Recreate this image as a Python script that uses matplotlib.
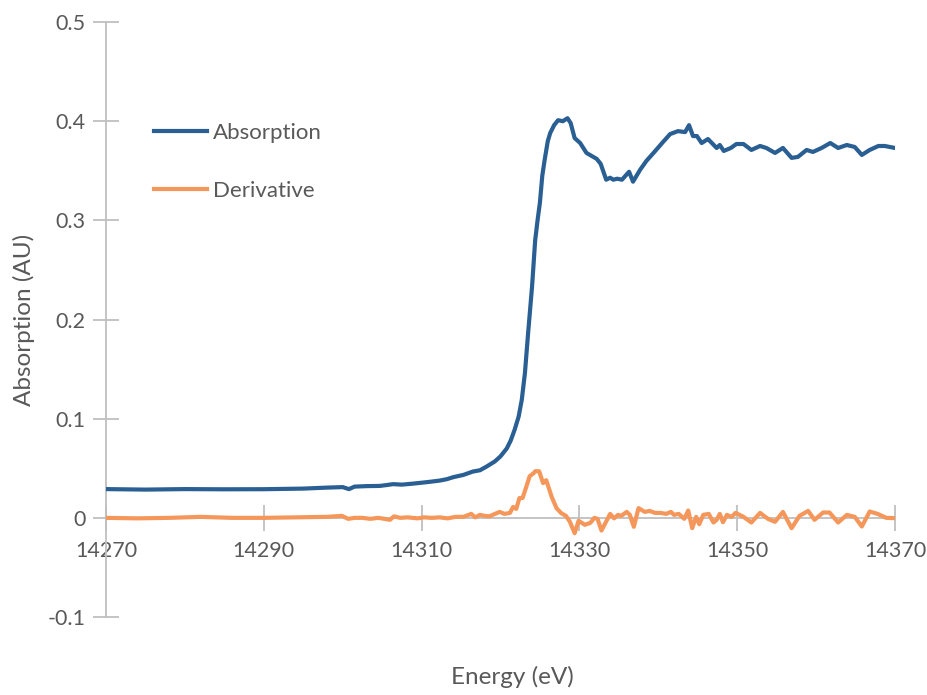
import matplotlib
matplotlib.use("Agg")
import matplotlib.pyplot as plt

# XANES scan: energy (eV) and normalised absorption
abs_energy = [14270, 14275, 14280, 14285, 14290, 14295, 14298, 14300, 14300.8, 14301.5,
              14303, 14304.7, 14305.5, 14306.4, 14307.5, 14308.9, 14310.2, 14311.2, 14312.3, 14313.2,
              14314.0, 14315.3, 14316.5, 14317.4, 14318.3, 14319.3, 14320.0, 14320.8, 14321.3, 14321.8,
              14322.3, 14322.7, 14323.1, 14323.5, 14324.0, 14324.4, 14324.7, 14325.0, 14325.3, 14325.6,
              14326.0, 14326.3, 14326.8, 14327.3, 14327.9, 14328.5, 14328.9, 14329.4, 14330.1, 14330.9,
              14332.2, 14332.7, 14333.4, 14333.9, 14334.3, 14334.8, 14335.4, 14336.3, 14336.8, 14337.7,
              14338.5, 14339.4, 14340.6, 14341.5, 14342.5, 14343.4, 14343.9, 14344.4, 14344.9, 14345.5,
              14346.3, 14347.4, 14347.8, 14348.3, 14349.2, 14349.9, 14350.8, 14351.8, 14352.9, 14353.7,
              14354.8, 14355.8, 14356.9, 14357.7, 14358.8, 14359.6, 14360.7, 14361.8, 14362.8, 14363.9,
              14364.9, 14365.8, 14366.8, 14367.9, 14368.7, 14370]
absorption = [0.029, 0.0285, 0.029, 0.0288, 0.0289, 0.0295, 0.0305, 0.031, 0.029, 0.0315,
              0.032, 0.0322, 0.033, 0.034, 0.0335, 0.0345, 0.0356, 0.0365, 0.0376, 0.039,
              0.041, 0.0433, 0.0467, 0.048, 0.052, 0.057, 0.062, 0.070, 0.078, 0.089,
              0.102, 0.119, 0.146, 0.186, 0.233, 0.280, 0.300, 0.318, 0.345, 0.361,
              0.380, 0.388, 0.396, 0.401, 0.400, 0.403, 0.398, 0.383, 0.378, 0.368,
              0.362, 0.357, 0.341, 0.343, 0.341, 0.342, 0.341, 0.349, 0.339, 0.351,
              0.360, 0.368, 0.379, 0.387, 0.390, 0.389, 0.396, 0.385, 0.385, 0.378,
              0.382, 0.373, 0.376, 0.370, 0.373, 0.377, 0.377, 0.371, 0.375, 0.373,
              0.368, 0.373, 0.363, 0.364, 0.371, 0.369, 0.373, 0.378, 0.373, 0.376,
              0.374, 0.366, 0.371, 0.375, 0.375, 0.373]

# first derivative of the absorption
der_energy = [14270, 14274, 14278, 14282, 14286, 14290, 14294, 14298, 14299.9, 14300.7,
              14301.5, 14302.5, 14303.5, 14304.5, 14305.3, 14306.0, 14306.5, 14307.3, 14308.2, 14308.9,
              14309.5, 14310.3, 14311.3, 14312.3, 14313.3, 14314.3, 14315.3, 14316.3, 14316.8, 14317.4,
              14318.0, 14318.6, 14319.3, 14319.9, 14320.5, 14321.2, 14321.6, 14322.0, 14322.4, 14322.8,
              14323.3, 14323.7, 14324.2, 14324.4, 14324.9, 14325.4, 14325.8, 14326.5, 14327.1, 14327.7,
              14328.3, 14328.8, 14329.4, 14329.9, 14330.7, 14331.4, 14331.9, 14332.3, 14332.8, 14333.9,
              14334.4, 14334.9, 14335.3, 14336.0, 14336.4, 14336.9, 14337.5, 14338.3, 14338.9, 14339.6,
              14340.3, 14341.0, 14341.6, 14342.0, 14342.6, 14343.3, 14343.8, 14344.3, 14344.8, 14345.2,
              14345.7, 14346.4, 14347.0, 14347.4, 14347.8, 14348.2, 14348.7, 14349.3, 14349.8, 14350.8,
              14351.8, 14352.9, 14353.9, 14354.8, 14355.8, 14356.9, 14357.9, 14359.0, 14359.8, 14360.9,
              14361.7, 14362.8, 14363.9, 14364.9, 14365.8, 14366.8, 14367.8, 14368.9, 14370]
derivative = [0.0, -0.0005, 0.0, 0.001, 0.0, 0.0, 0.0005, 0.001, 0.002, -0.001,
              0.0, 0.0, -0.001, 0.0, -0.001, -0.002, 0.0015, 0.0, 0.0005, 0.0,
              -0.0005, 0.0005, 0.0, 0.0005, -0.0005, 0.001, 0.001, 0.004, 0.0005, 0.003,
              0.002, 0.0015, 0.004, 0.006, 0.004, 0.005, 0.011, 0.009, 0.020, 0.020,
              0.032, 0.042, 0.045, 0.047, 0.047, 0.035, 0.038, 0.021, 0.0098, 0.0047,
              0.002, -0.004, -0.0155, -0.003, -0.007, -0.005, 0.0, -0.001, -0.0128, 0.004,
              -0.0005, 0.003, 0.002, 0.006, 0.003, -0.009, 0.0098, 0.006, 0.007, 0.005,
              0.005, 0.004, 0.006, 0.003, 0.004, -0.001, 0.0074, -0.0104, 0.001, -0.0064,
              0.003, 0.004, -0.0047, -0.002, 0.004, -0.0044, 0.003, 0.001, 0.005, 0.001,
              -0.0047, 0.005, -0.001, -0.004, 0.006, -0.0104, 0.002, 0.007, -0.002, 0.0054,
              0.0054, -0.0047, 0.003, 0.001, -0.0087, 0.0064, 0.004, 0.0, -0.0003]

x_ticks = [14270, 14290, 14310, 14330, 14350, 14370]
y_ticks = [-0.1, 0, 0.1, 0.2, 0.3, 0.4, 0.5]
y_tick_labels = ["-0.1", "0", "0.1", "0.2", "0.3", "0.4", "0.5"]

plt.rcParams['font.family'] = ['Lato', 'DejaVu Sans']
grey = "#595959"
axis_grey = "#bfbfbf"

fig = plt.figure(figsize=(9.28, 6.95), dpi=100)
ax = fig.add_axes([0.1142, 0.1122, 0.8502, 0.8561])

ax.plot(abs_energy, absorption, color="#2a5f93", lw=3, label="Absorption", zorder=3)
ax.plot(der_energy, derivative, color="#f5975a", lw=3, label="Derivative", zorder=3)

ax.set_xlim(14270, 14370)
ax.set_ylim(-0.1, 0.5)
ax.set_xticks(x_ticks)
ax.set_yticks(y_ticks)
ax.set_yticklabels(y_tick_labels)

for side in ["top", "right"]:
    ax.spines[side].set_visible(False)
ax.spines["bottom"].set_position(("data", 0))
for side in ["left", "bottom"]:
    ax.spines[side].set_color(axis_grey)
    ax.spines[side].set_linewidth(1.3)

ax.tick_params(axis="both", direction="inout", length=19, width=1.3, color=axis_grey,
               labelcolor=grey, labelsize=15.5)
ax.tick_params(axis="y", pad=5)
ax.tick_params(axis="x", pad=7)

ax.set_ylabel("Absorption (AU)", fontsize=17.5, color=grey)
ax.yaxis.set_label_coords(-0.090, 0.5)
ax.set_xlabel("Energy (eV)", fontsize=17.5, color=grey)
ax.xaxis.set_label_coords(0.515, -0.083)

ax.legend(loc="upper left", bbox_to_anchor=(154 / 928, 1 - 123 / 695),
          bbox_transform=fig.transFigure, frameon=False, fontsize=16,
          handlelength=2.4, handletextpad=0.25, labelspacing=1.7,
          borderpad=0, borderaxespad=0, labelcolor=grey)

fig.savefig("out.png", dpi=100)
